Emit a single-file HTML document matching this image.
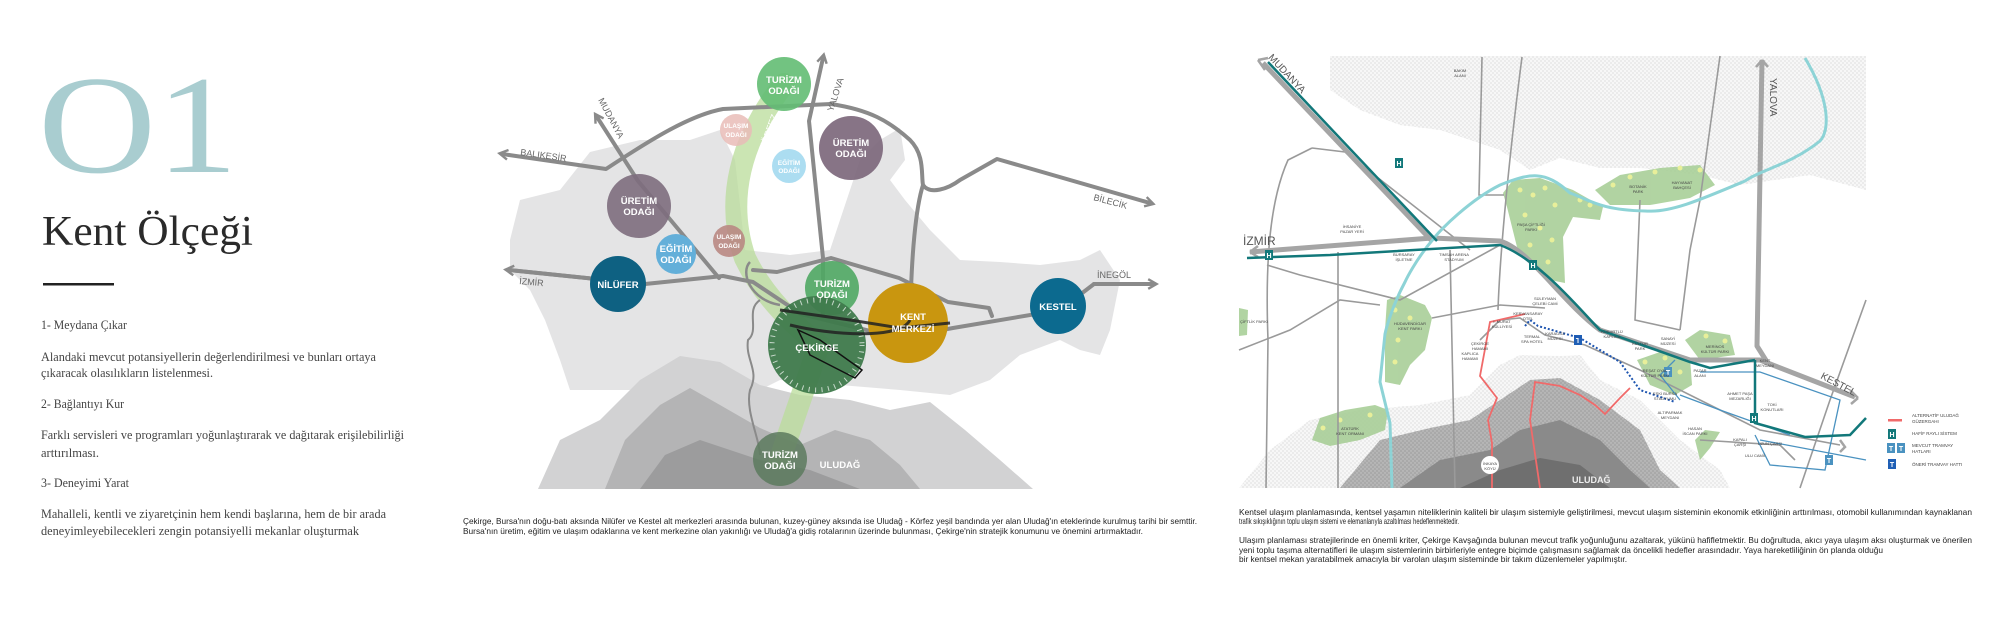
<!DOCTYPE html>
<html><head><meta charset="utf-8"><style>
html,body{margin:0;padding:0;background:#fff;}
svg{display:block;}
</style></head><body>
<svg width="2000" height="628" viewBox="0 0 2000 628" xmlns="http://www.w3.org/2000/svg" font-family="Liberation Sans, DejaVu Sans, sans-serif">
<defs>
<pattern id="dots" width="4" height="4" patternUnits="userSpaceOnUse"><rect width="4" height="4" fill="#f7f7f7"/><circle cx="1" cy="1" r="0.6" fill="#cdcdcd"/><circle cx="3" cy="3" r="0.6" fill="#cdcdcd"/></pattern>
<pattern id="dots2" width="4" height="4" patternUnits="userSpaceOnUse"><rect width="4" height="4" fill="#a9a9a9"/><circle cx="1" cy="1" r="0.7" fill="#c8c8c8"/><circle cx="3" cy="3" r="0.7" fill="#c8c8c8"/></pattern>
<marker id="ar" viewBox="0 0 10 10" refX="5" refY="5" markerWidth="3" markerHeight="3" orient="auto"><path d="M1,1 L8,5 L1,9" fill="none" stroke="#8a8a8a" stroke-width="2"/></marker>
</defs>

<!-- LEFT PANEL -->
<text x="38" y="172" font-family="Liberation Serif, serif" font-size="140" fill="#a9cdd0" textLength="200" lengthAdjust="spacingAndGlyphs">O1</text>
<text x="42" y="245" font-family="Liberation Serif, serif" font-size="42" fill="#2a2a2a" textLength="211" lengthAdjust="spacingAndGlyphs">Kent Ölçeği</text>
<rect x="43" y="283" width="71" height="2.5" fill="#222"/>
<g font-family="Liberation Serif, serif" font-size="12.5" fill="#444">
<text x="41" y="329" textLength="86" lengthAdjust="spacingAndGlyphs">1- Meydana Çıkar</text>
<text x="41" y="361" textLength="335" lengthAdjust="spacingAndGlyphs">Alandaki mevcut potansiyellerin değerlendirilmesi ve bunları ortaya</text>
<text x="41" y="377" textLength="172" lengthAdjust="spacingAndGlyphs">çıkaracak olasılıkların listelenmesi.</text>
<text x="41" y="408" textLength="83" lengthAdjust="spacingAndGlyphs">2- Bağlantıyı Kur</text>
<text x="41" y="439" textLength="363" lengthAdjust="spacingAndGlyphs">Farklı servisleri ve programları yoğunlaştırarak ve dağıtarak erişilebilirliği</text>
<text x="41" y="457" textLength="58" lengthAdjust="spacingAndGlyphs">arttırılması.</text>
<text x="41" y="487" textLength="88" lengthAdjust="spacingAndGlyphs">3- Deneyimi Yarat</text>
<text x="41" y="518" textLength="345" lengthAdjust="spacingAndGlyphs">Mahalleli, kentli ve ziyaretçinin hem kendi başlarına, hem de bir arada</text>
<text x="41" y="535" textLength="318" lengthAdjust="spacingAndGlyphs">deneyimleyebilecekleri zengin potansiyelli mekanlar oluşturmak</text>
</g>

<!-- MIDDLE MAP -->
<path d="M510,240 L520,200 L560,190 L590,152 L640,140 L690,140 L720,130 L735,160 L745,250 L790,255 L830,250 L860,160 L880,140 L900,128 L905,160 L890,180 L905,200 L930,230 L960,260 L1000,262 L1040,265 L1080,260 L1100,250 L1120,280 L1110,330 L1100,355 L1080,350 L1060,340 L1020,355 L990,380 L950,395 L900,390 L840,385 L780,380 L740,400 L700,395 L640,390 L570,390 L560,360 L545,320 L530,290 L510,270Z" fill="#e4e4e5"/>
<path d="M538,489 L560,440 L600,420 L640,380 L680,356 L720,362 L760,385 L800,395 L850,400 L890,410 L930,402 L965,430 L1000,460 L1033,489Z" fill="#d2d2d3"/>
<path d="M605,489 L625,440 L660,405 L690,388 L720,405 L760,428 L800,445 L835,430 L870,440 L900,465 L920,489Z" fill="#b4b4b5"/>
<path d="M640,489 L665,455 L700,440 L760,460 L810,470 L860,489Z" fill="#9c9c9d"/>
<!-- green band -->
<path d="M784,84 C740,140 725,200 745,258 C765,300 800,330 819,345 L780,459" fill="none" stroke="#b9dc9a" stroke-width="22" stroke-opacity="0.75" stroke-linecap="round"/>
<!-- roads -->
<g fill="none" stroke="#8a8a8a" stroke-width="4" stroke-linejoin="round" stroke-linecap="round">
<path d="M509,155 L606,169 C650,140 690,115 723,109 L831,104 C870,110 889,121 910,140 C925,155 921,175 923,185 C930,195 948,189 960,180 L997,159 L1150,203" marker-end="url(#ar)"/>
<path d="M509,155 L515,156" marker-end="url(#ar)" transform="rotate(180 509 155)"/>
<path d="M823,314 L823,258 L809,121 L823,58" marker-end="url(#ar)"/>
<path d="M719,278 L638,181 L597,117" marker-end="url(#ar)"/>
<path d="M1150,284 L1094,284 L1060,310 L953,328 L899,338 L801,314 L753,282 L723,276 L645,284 L509,270" />
<path d="M1094,284 L1153,284" marker-end="url(#ar)"/>
<path d="M645,284 L509,270" marker-end="url(#ar)"/>
<path d="M753,270 L777,272 L831,258 L899,278 L948,302 L989,308 L992,316"/>
<path d="M923,185 C915,210 912,260 911,290 L909,322"/>
</g>
<path d="M760,300 C745,310 760,330 748,340 C745,360 760,370 750,390 C745,410 760,440 760,455" fill="none" stroke="#8a8a8a" stroke-width="2"/>
<path d="M750,262 C740,272 750,300 780,305" fill="none" stroke="#8a8a8a" stroke-width="2.5"/>
<!-- circles -->
<g>
<circle cx="784" cy="84" r="27" fill="#63bd73" opacity="0.9"/>
<circle cx="736" cy="130" r="16" fill="#e9bcb7" opacity="0.85"/>
<circle cx="851" cy="148" r="32" fill="#7a6579" opacity="0.9"/>
<circle cx="789" cy="166" r="17" fill="#a3d9ef" opacity="0.9"/>
<circle cx="639" cy="206" r="32" fill="#7d6d7d" opacity="0.9"/>
<circle cx="729" cy="241" r="16" fill="#b98883" opacity="0.9"/>
<circle cx="676" cy="254" r="20" fill="#63afd9"/>
<circle cx="618" cy="284" r="28" fill="#0e6182"/>
<circle cx="832" cy="288" r="27" fill="#4fa763" opacity="0.9"/>
<circle cx="908" cy="323" r="40" fill="#c9960f"/>
<circle cx="1058" cy="306" r="28" fill="#0c6a8f"/>
<circle cx="817" cy="345" r="49" fill="#3f7a4c" opacity="0.95"/>
<circle cx="817" cy="345" r="45" fill="none" stroke="#fff" stroke-width="5" stroke-dasharray="1 5.5" opacity="0.7"/>
<circle cx="780" cy="459" r="27" fill="#5c7a5e" opacity="0.85"/>
</g>
<g stroke="#222" stroke-width="3" fill="none" opacity="0.85">
<path d="M780,310 L850,320 L900,328 L950,323"/>
<path d="M790,325 C830,335 900,340 910,320"/>
</g>
<path d="M798,330 L810,355 L855,378 L862,370 L820,340Z" fill="none" stroke="#111" stroke-width="1.5"/>
<g font-size="9.5" font-weight="bold" fill="#fff" text-anchor="middle">
<text x="784" y="83">TURİZM</text><text x="784" y="94">ODAĞI</text>
<text x="736" y="128" font-size="6.5">ULAŞIM</text><text x="736" y="137" font-size="6.5">ODAĞI</text>
<text x="851" y="146">ÜRETİM</text><text x="851" y="157">ODAĞI</text>
<text x="789" y="165" font-size="6.5">EĞİTİM</text><text x="789" y="173" font-size="6.5">ODAĞI</text>
<text x="639" y="204">ÜRETİM</text><text x="639" y="215">ODAĞI</text>
<text x="729" y="239" font-size="6.5">ULAŞIM</text><text x="729" y="248" font-size="6.5">ODAĞI</text>
<text x="676" y="252">EĞİTİM</text><text x="676" y="263">ODAĞI</text>
<text x="618" y="288">NİLÜFER</text>
<text x="832" y="287">TURİZM</text><text x="832" y="298">ODAĞI</text>
<text x="913" y="320">KENT</text><text x="913" y="332">MERKEZİ</text>
<text x="817" y="351">ÇEKİRGE</text>
<text x="1058" y="310">KESTEL</text>
<text x="780" y="458">TURİZM</text><text x="780" y="469">ODAĞI</text>
<text x="840" y="468">ULUDAĞ</text>
</g>
<g font-size="9" fill="#666">
<text x="520" y="155" transform="rotate(8 520 155)">BALIKESİR</text>
<text x="598" y="100" transform="rotate(62 598 100)">MUDANYA</text>
<text x="833" y="112" transform="rotate(-72 833 112)">YALOVA</text>
<text x="1093" y="200" transform="rotate(15 1093 200)">BİLECİK</text>
<text x="519" y="284" transform="rotate(5 519 284)">İZMİR</text>
<text x="1097" y="278">İNEGÖL</text>
<text x="765" y="150" fill="#fff" transform="rotate(-70 765 150)">KÖRFEZ</text>
</g>
<g font-size="8.5" fill="#222">
<text x="463" y="524" textLength="734" lengthAdjust="spacingAndGlyphs">Çekirge, Bursa'nın doğu-batı aksında Nilüfer ve Kestel alt merkezleri arasında bulunan, kuzey-güney aksında ise Uludağ - Körfez yeşil bandında yer alan Uludağ'ın eteklerinde kurulmuş tarihi bir semttir.</text>
<text x="463" y="534" textLength="680" lengthAdjust="spacingAndGlyphs">Bursa'nın üretim, eğitim ve ulaşım odaklarına ve kent merkezine olan yakınlığı ve Uludağ'a gidiş rotalarının üzerinde bulunması, Çekirge'nin stratejik konumunu ve önemini artırmaktadır.</text>
</g>

<!-- RIGHT MAP -->
<path d="M1330,56 L1866,56 L1866,190 L1810,175 L1740,185 L1700,175 L1640,168 L1600,168 L1560,158 L1530,170 L1500,150 L1470,140 L1440,130 L1400,125 L1360,110 L1330,90Z" fill="url(#dots)"/>
<path d="M1239,488 L1270,450 L1310,420 L1360,410 L1420,405 L1470,395 L1500,365 L1520,355 L1560,356 L1580,355 L1600,380 L1640,400 L1680,440 L1720,470 L1730,488Z" fill="url(#dots)"/>
<path d="M1340,488 L1380,440 L1430,428 L1470,420 L1500,400 L1530,380 L1560,378 L1600,400 L1640,430 L1660,470 L1680,488Z" fill="url(#dots2)"/>
<path d="M1400,488 L1440,460 L1490,450 L1520,430 L1560,420 L1600,440 L1630,470 L1650,488Z" fill="#8a8a8a"/>
<path d="M1460,488 L1500,470 L1540,458 L1580,465 L1610,488Z" fill="#6f6f6f"/>
<!-- parks -->
<g fill="#a9cf98" opacity="0.9">
<path d="M1503,193 L1513,180 L1540,178 L1573,190 L1603,207 L1600,220 L1573,217 L1563,237 L1565,283 L1550,280 L1533,267 L1517,247 L1507,207Z"/>
<path d="M1595,190 L1620,175 L1660,168 L1700,165 L1715,185 L1690,198 L1650,205 L1610,205Z"/>
<path d="M1387,300 L1400,295 L1425,305 L1432,318 L1425,350 L1410,365 L1400,385 L1385,382 L1385,330Z"/>
<path d="M1312,440 L1320,418 L1345,410 L1375,405 L1388,410 L1385,430 L1360,440 L1330,446Z"/>
<path d="M1637,360 L1660,352 L1690,358 L1692,385 L1675,395 L1650,385Z"/>
<path d="M1685,340 L1700,330 L1730,335 L1735,355 L1700,360Z"/>
<path d="M1239,308 L1248,310 L1247,335 L1239,336Z"/>
<path d="M1695,440 L1705,430 L1720,432 L1710,448 L1700,460Z"/>
</g>
<g fill="#e8ef9a">
<circle cx="1520" cy="190" r="2.5"/><circle cx="1533" cy="195" r="2.5"/><circle cx="1545" cy="188" r="2.5"/><circle cx="1555" cy="205" r="2.5"/><circle cx="1525" cy="215" r="2.5"/><circle cx="1540" cy="228" r="2.5"/><circle cx="1552" cy="240" r="2.5"/><circle cx="1530" cy="245" r="2.5"/><circle cx="1548" cy="262" r="2.5"/><circle cx="1580" cy="200" r="2.5"/><circle cx="1590" cy="205" r="2.5"/>
<circle cx="1613" cy="185" r="2.5"/><circle cx="1630" cy="177" r="2.5"/><circle cx="1655" cy="172" r="2.5"/><circle cx="1680" cy="168" r="2.5"/><circle cx="1700" cy="170" r="2.5"/>
<circle cx="1395" cy="310" r="2.5"/><circle cx="1410" cy="318" r="2.5"/><circle cx="1398" cy="340" r="2.5"/><circle cx="1395" cy="362" r="2.5"/>
<circle cx="1323" cy="428" r="2.5"/><circle cx="1340" cy="420" r="2.5"/><circle cx="1370" cy="415" r="2.5"/>
<circle cx="1645" cy="362" r="2.5"/><circle cx="1665" cy="358" r="2.5"/><circle cx="1680" cy="372" r="2.5"/><circle cx="1706" cy="336" r="2.5"/><circle cx="1725" cy="341" r="2.5"/>
</g>
<!-- thin roads -->
<g fill="none" stroke="#9a9a9a" stroke-width="1.6">
<path d="M1312,148 L1288,160 C1270,200 1265,260 1268,340 L1266,488"/>
<path d="M1312,148 L1345,152 L1470,250"/>
<path d="M1482,57 L1479,195 L1504,195"/>
<path d="M1522,57 C1510,150 1500,250 1498,310"/>
<path d="M1267,265 L1300,275 L1400,300 L1500,245"/>
<path d="M1450,250 L1455,488"/>
<path d="M1338,252 L1338,488"/>
<path d="M1239,350 L1290,330 L1340,300 L1380,305"/>
<path d="M1432,318 L1500,305 L1545,308"/>
<path d="M1480,340 L1500,320 L1520,318 L1545,335 L1585,345 L1640,370 L1700,400 L1760,430 L1840,445"/>
<path d="M1720,56 L1700,200 L1690,250 L1680,330"/>
<path d="M1640,200 L1635,320 L1680,330"/>
<path d="M1866,300 L1830,400 L1800,488"/>
<path d="M1700,440 L1780,445 L1795,460"/>
</g>
<g fill="none" stroke="#4a92c0" stroke-width="1.3">
<path d="M1700,372 L1760,372 L1840,400 L1825,470 L1770,465 L1755,435"/>
<path d="M1760,440 L1866,460"/>
<path d="M1680,395 L1720,410 L1790,435"/>
<path d="M1675,360 L1660,375 L1680,400"/>
</g>
<!-- main roads -->
<g fill="none" stroke="#a5a5a5" stroke-width="5" stroke-linejoin="round">
<path d="M1263,63 L1432,241"/>
<path d="M1250,252 L1432,238 L1500,241 C1530,250 1560,300 1600,330 L1690,360 L1760,360 L1855,397"/>
<path d="M1762,60 L1757,346 L1767,362"/>
</g>
<g fill="none" stroke="#a5a5a5" stroke-width="2.5">
<path d="M1265,70 L1258,60 M1258,60 L1268,58"/>
<path d="M1250,252 L1258,246 M1250,252 L1258,257"/>
<path d="M1858,398 L1850,390 M1858,398 L1851,404"/>
<path d="M1762,60 L1756,67 M1762,60 L1768,67"/>
<path d="M1840,440 L1845,447 L1840,452"/>
</g>
<!-- river -->
<path d="M1805,58 C1830,100 1830,130 1820,141 C1790,165 1760,170 1745,181 C1700,200 1670,213 1645,211 C1600,210 1590,200 1570,193 C1545,170 1530,173 1500,185 C1470,200 1440,230 1435,237 C1415,260 1405,282 1405,282 C1390,310 1385,334 1385,334 L1380,382 L1390,423 L1392,488" fill="none" stroke="#8dd3d6" stroke-width="3"/>
<!-- teal rail -->
<g fill="none" stroke="#12787a" stroke-width="2.5">
<path d="M1268,62 L1437,241"/>
<path d="M1247,258 L1330,255 L1500,245 C1540,260 1580,310 1600,330 L1690,362 L1710,368 L1755,360"/>
<path d="M1755,360 L1755,423 L1805,437 L1850,435 L1866,418"/>
</g>
<g font-size="7" font-weight="bold" fill="#fff" text-anchor="middle">
<rect x="1395" y="158" width="8" height="10" fill="#12787a"/><text x="1399" y="166">H</text>
<rect x="1265" y="250" width="8" height="10" fill="#12787a"/><text x="1269" y="258">H</text>
<rect x="1529" y="260" width="8" height="10" fill="#12787a"/><text x="1533" y="268">H</text>
<rect x="1750" y="413" width="8" height="10" fill="#12787a"/><text x="1754" y="421">H</text>
<rect x="1574" y="335" width="8" height="10" fill="#1f5fb5"/><text x="1578" y="343">T</text>
<rect x="1664" y="367" width="8" height="10" fill="#4a92c0"/><text x="1668" y="375">T</text>
<rect x="1825" y="455" width="8" height="10" fill="#4a92c0"/><text x="1829" y="463">T</text>
</g>
<!-- red routes & blue dotted -->
<g fill="none" stroke="#f06a6a" stroke-width="1.8">
<path d="M1525,314 L1490,322 L1480,376 L1497,398 L1488,420 L1492,443 L1492,488"/>
<path d="M1630,388 L1620,398 L1605,414 L1595,405 L1580,395 L1560,386 L1535,382 L1530,420 L1540,488"/>
</g>
<path d="M1525,326 L1530,320 L1538,326 L1580,338 L1620,362 L1640,390 L1675,402" fill="none" stroke="#1e55b0" stroke-width="2" stroke-dasharray="2 2"/>
<circle cx="1490" cy="465" r="9" fill="#fff"/>
<g font-size="4" fill="#444" text-anchor="middle">
<text x="1460" y="72">BAKIM</text><text x="1460" y="77">ALANI</text>
<text x="1352" y="228">İHSANİYE</text><text x="1352" y="233">PAZAR YERİ</text>
<text x="1404" y="256">BURSARAY</text><text x="1404" y="261">İŞLETME</text>
<text x="1454" y="256">TIMSAH ARENA</text><text x="1454" y="261">STADYUM</text>
<text x="1531" y="226">PAŞA ÇİFTLİĞİ</text><text x="1531" y="231">PARKI</text>
<text x="1638" y="188">BOTANİK</text><text x="1638" y="193">PARK</text>
<text x="1682" y="184">HAYVANAT</text><text x="1682" y="189">BAHÇESİ</text>
<text x="1410" y="325">HÜDAVENDİGAR</text><text x="1410" y="330">KENT PARKI</text>
<text x="1350" y="430">ATATÜRK</text><text x="1350" y="435">KENT ORMANI</text>
<text x="1254" y="323">ÇİFTLİK PARKI</text>
<text x="1545" y="300">SÜLEYMAN</text><text x="1545" y="305">ÇELEBİ CAMİ</text>
<text x="1528" y="315">KERVANSARAY</text><text x="1528" y="320">OTEL</text>
<text x="1502" y="323">I. MURAT</text><text x="1502" y="328">KÜLLİYESİ</text>
<text x="1532" y="338">TERMAL</text><text x="1532" y="343">SPA HOTEL</text>
<text x="1555" y="335">KARAGÖZ</text><text x="1555" y="340">MÜZESİ</text>
<text x="1480" y="345">ÇEKİRGE</text><text x="1480" y="350">HAMAMI</text>
<text x="1470" y="355">KAPLICA</text><text x="1470" y="360">HAMAMI</text>
<text x="1612" y="333">KÜKÜRTLÜ</text><text x="1612" y="338">KAPLICA</text>
<text x="1640" y="345">KÜLTÜR</text><text x="1640" y="350">PARK</text>
<text x="1668" y="340">SANAYİ</text><text x="1668" y="345">MÜZESİ</text>
<text x="1655" y="372">REŞAT OYAL</text><text x="1655" y="377">KÜLTÜR PARKI</text>
<text x="1715" y="348">MERİNOS</text><text x="1715" y="353">KÜLTÜR PARKI</text>
<text x="1700" y="372">PAZAR</text><text x="1700" y="377">ALANI</text>
<text x="1765" y="362">KENT</text><text x="1765" y="367">MEYDANI</text>
<text x="1740" y="395">AHMET PAŞA</text><text x="1740" y="400">MEZARLIĞI</text>
<text x="1772" y="406">TOKİ</text><text x="1772" y="411">KONUTLARI</text>
<text x="1665" y="395">ESKİ BURSA</text><text x="1665" y="400">STADYUMU</text>
<text x="1670" y="414">ALTIPARMAK</text><text x="1670" y="419">MEYDANI</text>
<text x="1695" y="430">HASAN</text><text x="1695" y="435">İSCAN PARKI</text>
<text x="1740" y="441">KAPALI</text><text x="1740" y="446">ÇARŞI</text>
<text x="1770" y="445">UZUN ÇARŞI</text>
<text x="1755" y="457">ULU CAMİİ</text>
<text x="1490" y="465">İNKAYA</text><text x="1490" y="470">KÖYÜ</text>
</g>
<g font-size="10" fill="#555">
<text x="1266" y="78" transform="rotate(47 1290 70)">MUDANYA</text>
<text x="1770" y="78" transform="rotate(90 1770 78)">YALOVA</text>
<text x="1243" y="245" font-size="12">İZMİR</text>
<text x="1820" y="378" transform="rotate(28 1820 378)">KESTEL</text>
</g>
<text x="1572" y="483" font-size="9" font-weight="bold" fill="#eee">ULUDAĞ</text>
<!-- legend -->
<rect x="1888" y="419" width="14" height="2.5" fill="#f06a6a"/>
<g font-size="7" font-weight="bold" fill="#fff" text-anchor="middle">
<rect x="1888" y="429" width="8" height="10" fill="#12787a"/><text x="1892" y="437">H</text>
<rect x="1887" y="443" width="8" height="10" fill="#4a92c0"/><text x="1891" y="451">T</text>
<rect x="1897" y="443" width="8" height="10" fill="#4a92c0"/><text x="1901" y="451">T</text>
<rect x="1888" y="459" width="8" height="10" fill="#1f5fb5"/><text x="1892" y="467">T</text>
</g>
<g font-size="4.5" fill="#444">
<text x="1912" y="417">ALTERNATİF ULUDAĞ</text><text x="1912" y="423">GÜZERGAHI</text>
<text x="1912" y="435">HAFİF RAYLI SİSTEM</text>
<text x="1912" y="447">MEVCUT TRAMVAY</text><text x="1912" y="453">HATLARI</text>
<text x="1912" y="466">ÖNERİ TRAMVAY HATTI</text>
</g>
<g font-size="8.5" fill="#222">
<text x="1239" y="515" textLength="733" lengthAdjust="spacingAndGlyphs">Kentsel ulaşım planlamasında, kentsel yaşamın niteliklerinin kaliteli bir ulaşım sistemiyle geliştirilmesi, mevcut ulaşım sisteminin ekonomik etkinliğinin arttırılması, otomobil kullanımından kaynaklanan</text>
<text x="1239" y="524" textLength="220" lengthAdjust="spacingAndGlyphs">trafik sıkışıklığının toplu ulaşım sistemi ve elemanlarıyla azaltılması hedeflenmektedir.</text>
<text x="1239" y="543" textLength="733" lengthAdjust="spacingAndGlyphs">Ulaşım planlaması stratejilerinde en önemli kriter, Çekirge Kavşağında bulunan mevcut trafik yoğunluğunu azaltarak, yükünü hafifletmektir.  Bu doğrultuda,  akıcı yaya ulaşım aksı oluşturmak ve önerilen</text>
<text x="1239" y="553" textLength="644" lengthAdjust="spacingAndGlyphs">yeni toplu taşıma alternatifleri ile ulaşım sistemlerinin birbirleriyle entegre biçimde çalışmasını sağlamak da öncelikli hedefler arasındadır. Yaya hareketliliğinin ön planda olduğu</text>
<text x="1239" y="562" textLength="388" lengthAdjust="spacingAndGlyphs">bir kentsel mekan yaratabilmek amacıyla bir varolan ulaşım sisteminde bir takım düzenlemeler yapılmıştır.</text>
</g>
</svg>
</body></html>
